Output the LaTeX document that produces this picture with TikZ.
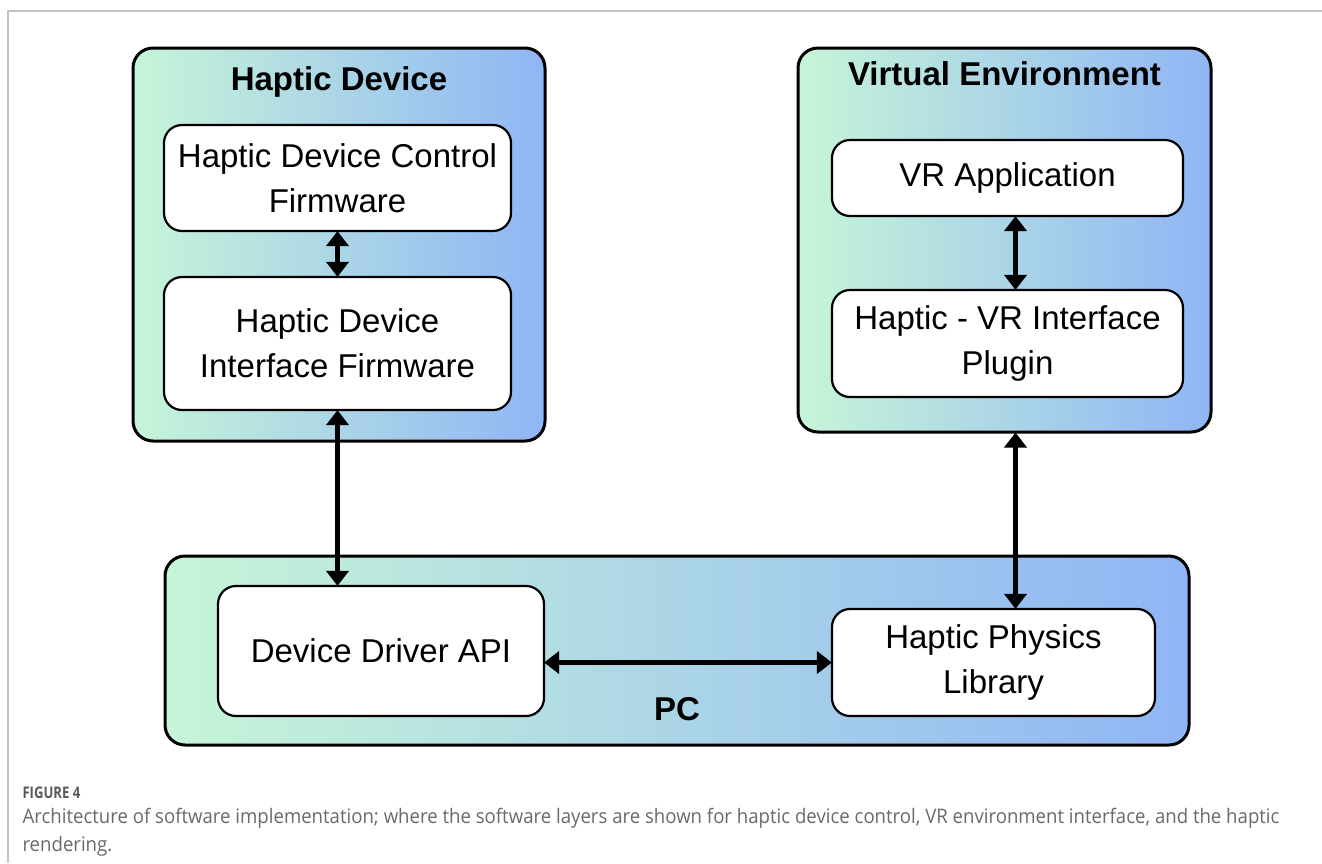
\documentclass[tikz,border=0pt]{standalone}
\usepackage{fontspec}
\setmainfont{Liberation Sans}
\newfontfamily\capfont[FakeStretch=0.93]{Open Sans}
\newfontfamily\capnofont[FakeStretch=0.82]{Open Sans}
\usetikzlibrary{arrows.meta,positioning}

\definecolor{gradleft}{RGB}{198,245,216}
\definecolor{gradmid}{RGB}{176,222,228}
\definecolor{gradright}{RGB}{144,181,245}
\definecolor{framegray}{RGB}{195,195,195}
\definecolor{capgray}{RGB}{105,105,105}

\tikzset{
  groupbox/.style={draw=black,line width=3pt,rounded corners=20pt,left color=gradleft,middle color=gradmid,right color=gradright,inner sep=0pt},
  layerbox/.style={draw=black,line width=2.2pt,rounded corners=18pt,fill=white,align=center,inner sep=0pt,font=\fontsize{33}{45}\selectfont},
  grouptitle/.style={anchor=base,font=\fontsize{33}{38}\selectfont\bfseries},
  link/.style={{Triangle[length=15pt,width=22pt]}-{Triangle[length=15pt,width=22pt]},line width=5pt,shorten <=-1pt,shorten >=-1pt}
}

\begin{document}
\begin{tikzpicture}[x=1pt,y=-1pt]
\useasboundingbox (0,0) rectangle (1322,863);
% page frame
\draw[framegray,line width=1.5pt] (8,863) -- (8,11) -- (1322,11);

% groups
\node[groupbox,minimum width=412pt,minimum height=393pt] (hd) at (339,244.5) {};
\node[groupbox,minimum width=413pt,minimum height=384pt] (ve) at (1004.5,240) {};
\node[groupbox,minimum width=1024pt,minimum height=189pt] (pc) at (677,650.5) {};
\node[grouptitle] (hd_t) at (339,90) {Haptic Device};
\node[grouptitle] (ve_t) at (1004.5,85) {Virtual Environment};
\node[grouptitle] (pc_t) at (677,720) {PC};

% layers
\node[layerbox,minimum width=347pt,minimum height=106pt] (fw_ctrl) at (337.5,178) {Haptic Device Control\\Firmware};
\node[layerbox,minimum width=347pt,minimum height=133pt] (fw_if) at (337.5,343.5) {Haptic Device\\Interface Firmware};
\node[layerbox,minimum width=351pt,minimum height=76pt] (vr_app) at (1007.5,178) {VR Application};
\node[layerbox,minimum width=351pt,minimum height=107pt] (vr_plug) at (1007.5,343.5) {Haptic - VR Interface\\Plugin};
\node[layerbox,minimum width=326pt,minimum height=130pt] (drv) at (381,651) {Device Driver API};
\node[layerbox,minimum width=323pt,minimum height=107pt] (phys) at (993.5,662.5) {Haptic Physics\\Library};

% links
\draw[link] (fw_ctrl.south) -- (fw_if.north);
\draw[link] (fw_if.south) -- (fw_if.south |- drv.north);
\draw[link] ([xshift=8pt]vr_app.south) -- ([xshift=8pt]vr_plug.north);
\draw[link] ([xshift=11pt]ve.south) -- ([xshift=11pt]ve.south |- phys.north);
\draw[link] (phys.west -| drv.east) -- (phys.west);

% caption
\node[anchor=base west,text=capgray!85!black,font=\capnofont\fontsize{16}{19}\selectfont\bfseries] (cap_no) at (19,798) {FIGURE 4};
\node[anchor=base west,text=capgray,font=\capfont\fontsize{20}{28}\selectfont] (cap_1) at (19,823) {Architecture of software implementation; where the software layers are shown for haptic device control, VR environment interface, and the haptic};
\node[anchor=base west,text=capgray,font=\capfont\fontsize{20}{28}\selectfont] (cap_2) at (19,851) {rendering.};
\end{tikzpicture}
\end{document}
